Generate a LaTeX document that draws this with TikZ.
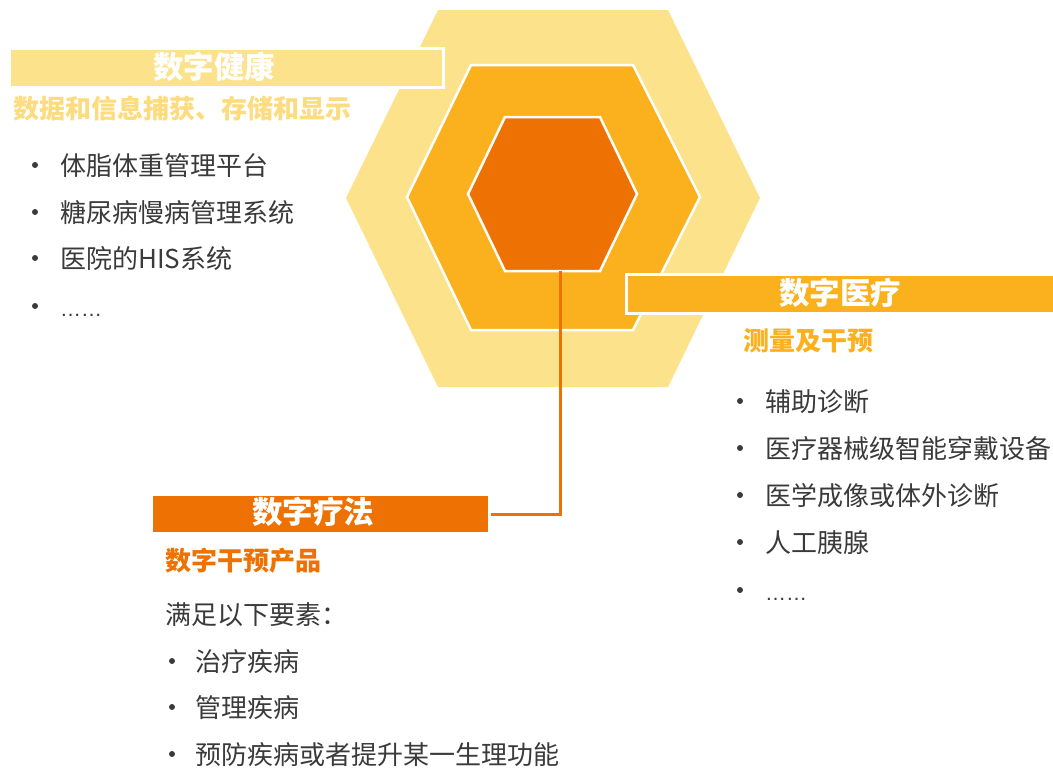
\documentclass[tikz,border=0pt]{standalone}
\usepackage{fontspec}
\setmainfont{Noto Sans CJK SC}
\newfontfamily\latinfont{Liberation Sans}
\definecolor{hexlight}{HTML}{FDE28C}
\definecolor{hexmid}{HTML}{FBB01E}
\definecolor{hexdark}{HTML}{EE7203}
\definecolor{bodytext}{HTML}{3A3A3A}
\definecolor{sublight}{HTML}{FCDC7E}
\newcommand{\moredots}{{\latinfont\fontsize{21}{21}\selectfont ……}}
\begin{document}
\begin{tikzpicture}[x=1pt,y=-1pt,
  banner/.style={draw=white,line width=3pt,rectangle,inner sep=0pt,anchor=north west,minimum height=39pt},
  title/.style={text=white,font=\fontsize{30.5}{30.5}\selectfont\bfseries,inner sep=0pt,text height=26pt,text depth=4pt},
  subtitle/.style={font=\fontsize{26}{26}\selectfont\bfseries,inner sep=0pt,anchor=west,text height=23pt,text depth=3pt},
  item/.style={text=bodytext,font=\fontsize{26}{26}\selectfont,inner sep=0pt,anchor=west,text height=23pt,text depth=3pt},
  dot/.style={circle,fill=bodytext,inner sep=0pt,minimum size=6pt},
  hexwhite/.style={draw=white,line width=2.5pt},
  link/.style={draw=hexdark,line width=3pt}]
\useasboundingbox (0,0) rectangle (1053,769);

% hexagons
\fill[hexlight] (438,10)--(668,10)--(760,198)--(668,387)--(438,387)--(346,198)--cycle;
\filldraw[fill=hexmid,hexwhite] (471,65)--(633,65)--(700,197)--(633,330)--(471,330)--(407,197)--cycle;
\filldraw[fill=hexdark,hexwhite] (505,117)--(600,117)--(637,194)--(600,271)--(505,271)--(468,194)--cycle;
\coordinate (hexbot) at (560,271);

% banners
\node[banner,fill=hexlight,minimum width=434pt] (hb) at (8,47) {};
\node[banner,fill=hexmid,minimum width=440pt] (mb) at (625,273) {};
\node[banner,fill=hexdark,minimum width=338pt] (tb) at (150,493) {};
\draw[link] (hexbot) |- (tb.east);

% titles
\node[title] (ht) at (214,67) {数字健康};
\node[title] (mt) at (840,293) {数字医疗};
\node[title] (tt) at (313,512) {数字疗法};

% subtitles
\node[subtitle,text=sublight] (hs) at (13,108) {数据和信息捕获、存储和显示};
\node[subtitle,text=hexmid] (ms) at (743,340) {测量及干预};
\node[subtitle,text=hexdark] (ts) at (165,560) {数字干预产品};

% left list
\node[dot] (hd1) at (35,165) {}; \node[item] (hi1) at (60,165) {体脂体重管理平台};
\node[dot] (hd2) at (35,212) {}; \node[item] (hi2) at (60,212) {糖尿病慢病管理系统};
\node[dot] (hd3) at (35,258) {}; \node[item] (hi3) at (60,258) {医院的HIS系统};
\node[dot] (hd4) at (35,306) {}; \node[item] (hi4) at (60,306) {\moredots};

% right list
\node[dot] (md1) at (740,401) {}; \node[item] (mi1) at (765,401) {辅助诊断};
\node[dot] (md2) at (740,448) {}; \node[item] (mi2) at (765,448) {医疗器械级智能穿戴设备};
\node[dot] (md3) at (740,495) {}; \node[item] (mi3) at (765,495) {医学成像或体外诊断};
\node[dot] (md4) at (740,542) {}; \node[item] (mi4) at (765,542) {人工胰腺};
\node[dot] (md5) at (740,590) {}; \node[item] (mi5) at (765,590) {\moredots};

% bottom list
\node[item] (tl) at (165,614) {满足以下要素：};
\node[dot] (td1) at (172,661) {}; \node[item] (ti1) at (195,661) {治疗疾病};
\node[dot] (td2) at (172,707) {}; \node[item] (ti2) at (195,707) {管理疾病};
\node[dot] (td3) at (172,754) {}; \node[item] (ti3) at (195,754) {预防疾病或者提升某一生理功能};
\end{tikzpicture}
\end{document}
